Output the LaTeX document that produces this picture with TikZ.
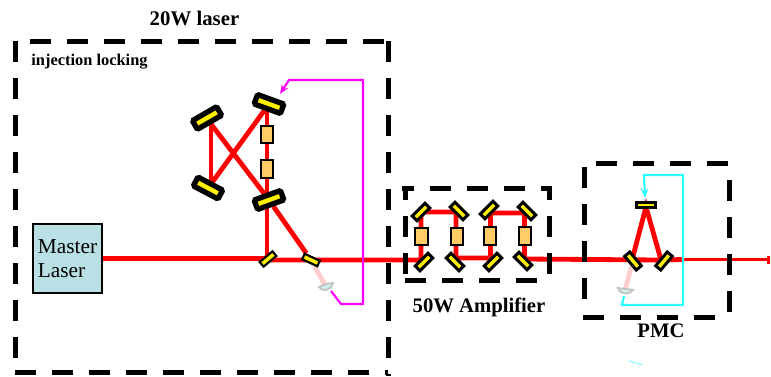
\documentclass[tikz,border=0pt]{standalone}
\usepackage{fontspec}
\setmainfont{Liberation Serif}
\usetikzlibrary{arrows.meta,backgrounds}
\definecolor{pureM}{RGB}{255,0,255}
\definecolor{pureC}{RGB}{40,255,255}
\definecolor{pureR}{RGB}{255,0,0}
\definecolor{pureY}{RGB}{255,240,0}
\definecolor{paleR}{RGB}{255,205,205}
\definecolor{crys}{RGB}{255,204,102}
\definecolor{lasbox}{RGB}{185,224,228}
\definecolor{lensF}{RGB}{205,240,240}
\definecolor{lensD}{RGB}{195,195,195}
\tikzset{
  x=0.75pt,y=-0.75pt,
  frame/.style={line width=3.75pt,dash pattern=on 15.75pt off 12pt},
  beam/.style={draw=pureR,line width=3.6pt},
  thinbeam/.style={draw=pureR,line width=2.4pt},
  faint/.style={draw=paleR,line width=3.6pt},
  bigmirror/.style={draw=black,fill=pureY,line width=4pt,minimum width=21pt,minimum height=7.5pt,inner sep=0pt,rounded corners=1pt},
  midmirror/.style={draw=black,fill=pureY,line width=2.2pt,minimum width=13.5pt,minimum height=5pt,inner sep=0pt},
  smallmirror/.style={draw=black,fill=pureY,line width=1.6pt,minimum width=12.5pt,minimum height=4.5pt,inner sep=0pt},
  crystal/.style={draw=black,fill=crys,line width=1.6pt,minimum width=9.5pt,minimum height=13pt,inner sep=0pt},
  title/.style={font=\fontsize{15.6}{18}\selectfont\bfseries,inner sep=0pt},
  lens/.style={draw=lensD,fill=lensF,line width=1.4pt},
}
\begin{document}
\begin{tikzpicture}
\useasboundingbox (0,0) rectangle (771,376);
% frames
\coordinate (fa1) at (30,41); \coordinate (fa2) at (388,41); \coordinate (fa3) at (388,376);
\coordinate (fa4) at (15,372); \coordinate (fa5) at (388,372); \coordinate (fa6) at (15,41);
\draw[frame] (fa1) -- (fa2);
\draw[frame] (fa2) -- (fa3);
\draw[frame] (fa6) -- (fa4);
\draw[frame] (fa4) -- (fa5);
\coordinate (fb0) at (402,188); \coordinate (fb1) at (405,187); \coordinate (fb2) at (552,188); \coordinate (fb3) at (549,187); \coordinate (fb7) at (549,277);
\coordinate (fb4) at (405,275); \coordinate (fb5) at (405,280); \coordinate (fb6) at (538,280);
\draw[frame,dash phase=6.75pt] (fb0) -- (fb2);
\draw[frame,dash phase=6pt] (fb3) -- (fb7);
\draw[frame,dash phase=6pt] (fb1) -- (fb4);
\draw[frame] (fb5) -- (fb6);
\coordinate (fc1) at (596,163); \coordinate (fc2) at (731,163); \coordinate (fc3) at (729,180);
\coordinate (fc4) at (729,316); \coordinate (fc5) at (584,167); \coordinate (fc6) at (584,301);
\coordinate (fc7) at (583,317); \coordinate (fc8) at (717,317);
\draw[frame] (fc1) -- (fc2);
\draw[frame] (fc3) -- (fc4);
\draw[frame] (fc5) -- (fc6);
\draw[frame] (fc7) -- (fc8);
% master laser
\node[draw=black,fill=lasbox,line width=1.1pt,minimum width=51.5pt,minimum height=52pt,inner sep=0pt,
  align=left,font=\fontsize{16}{18.5}\selectfont] (master) at (67.5,258.5) {Master\\Laser};
% mirrors 20W
\node[bigmirror,rotate=-20] (ma) at (269,104) {};
\node[bigmirror,rotate=30] (mb) at (207,118) {};
\node[bigmirror,rotate=-28] (mc) at (208,188) {};
\node[bigmirror,rotate=20] (md) at (269,200) {};
\node[smallmirror,rotate=40] (me) at (268,259) {};
\node[smallmirror,rotate=-25] (mf) at (311,260) {};
\node[crystal] (c1) at (267,134.5) {};
\node[crystal] (c2) at (267,169) {};
\coordinate (ab) at (211,124); \coordinate (ac) at (211,184);
\coordinate (av1) at (267,104); \coordinate (av2) at (267,259); \coordinate (ain) at (268,260);
\path[lens] (319,287) .. controls (322,292) and (331,291) .. (333,283) .. controls (328,283) and (323,285) .. (319,287) -- cycle;
\coordinate (lens1) at (326,287);
\coordinate (mg1) at (331,291); \coordinate (mg2) at (341,304); \coordinate (mg3) at (363,304);
\coordinate (mg4) at (363,80); \coordinate (mg5) at (289,80); \coordinate (mg6) at (280,94);
\draw[draw=pureM,line width=1.6pt,-{Stealth[length=7pt,width=5.5pt]}] (mg1) -- (mg2) -- (mg3) -- (mg4) -- (mg5) -- (mg6);
% amplifier
\node[midmirror,rotate=45] (a1) at (421,212) {};
\node[midmirror,rotate=-45] (a2) at (459,211) {};
\node[midmirror,rotate=45] (a3) at (489,210) {};
\node[midmirror,rotate=-45] (a4) at (527,211) {};
\node[midmirror,rotate=45] (a5) at (424,262) {};
\node[midmirror,rotate=-45] (a6) at (455,262) {};
\node[midmirror,rotate=45] (a7) at (493,262) {};
\node[midmirror,rotate=-45] (a8) at (523,261) {};
\node[crystal] (c3) at (421.5,236.5) {};
\node[crystal] (c4) at (457,236.5) {};
\node[crystal] (c5) at (490,236) {};
\node[crystal] (c6) at (525,236) {};
\coordinate (p1) at (421,260); \coordinate (p2) at (421,212); \coordinate (p3) at (456,212);
\coordinate (p4) at (456,258); \coordinate (p5) at (490.5,258); \coordinate (p6) at (490.5,213);
\coordinate (p7) at (524.5,213); \coordinate (p8) at (524.5,259);
% PMC
\node[midmirror,rotate=0,minimum width=14pt,minimum height=4pt,line width=1.8pt] (t) at (646,205) {};
\node[midmirror,rotate=-50] (l) at (633,261) {};
\node[midmirror,rotate=50] (r) at (664,261) {};
\coordinate (tl) at (646,207); \coordinate (lb) at (632,260); \coordinate (rb) at (661,260);
\coordinate (join) at (682,259.5); \coordinate (endp) at (770,259.5);
\path[lens] (618,288) .. controls (620,295) and (630,295) .. (633,290) .. controls (628,289) and (623,289) .. (618,288) -- cycle;
\coordinate (lens2) at (625,290);
\coordinate (cy1) at (624,296); \coordinate (cy2) at (622,305); \coordinate (cy3) at (683,305);
\coordinate (cy4) at (683,175); \coordinate (cy5) at (644,175); \coordinate (cy6) at (645,198);
\draw[draw=pureC,line width=1.6pt,-{Stealth[length=7pt,width=5.5pt]}] (cy1) -- (cy2) -- (cy3) -- (cy4) -- (cy5) -- (cy6);
\coordinate (st1) at (629,361); \coordinate (st2) at (643,365);
\draw[draw=pureC!60,line width=0.7pt] (st1) -- (st2);
% beams beneath the optics
\begin{scope}[on background layer]
\draw[beam] (master) -- (av2 |- master) -- (me);
\draw[beam] (av2) -- (av1);
\draw[beam] (ac) -- (ab);
\draw[beam] (ma) -- (ac);
\draw[beam] (ab) -- (md);
\draw[beam] (md) -- (mf);
\draw[faint] (mf) -- (lens1);
\draw[beam] (ain) -- (p1) -- (p2) -- (p3) -- (p4) -- (p5) -- (p6) -- (p7) -- (p8) -- (rb);
\draw[beam] (lb) -- (tl) -- (rb);
\draw[faint] (l) -- (lens2);
\draw[beam] (rb) -- (join);
\draw[thinbeam,-{Bar[width=6pt,length=1.5pt]}] (join) -- (endp);
\end{scope}
% texts
\node[title] (tlaser) at (194.5,18) {20W laser};
\node[font=\fontsize{12.3}{14}\selectfont\bfseries,inner sep=0pt] (tinj) at (89.5,62) {injection locking};
\node[title,font=\fontsize{15.5}{18}\selectfont\bfseries] (tamp) at (479,307) {50W Amplifier};
\node[title,font=\fontsize{15.5}{18}\selectfont\bfseries] (tpmc) at (661,331) {PMC};
\end{tikzpicture}
\end{document}
